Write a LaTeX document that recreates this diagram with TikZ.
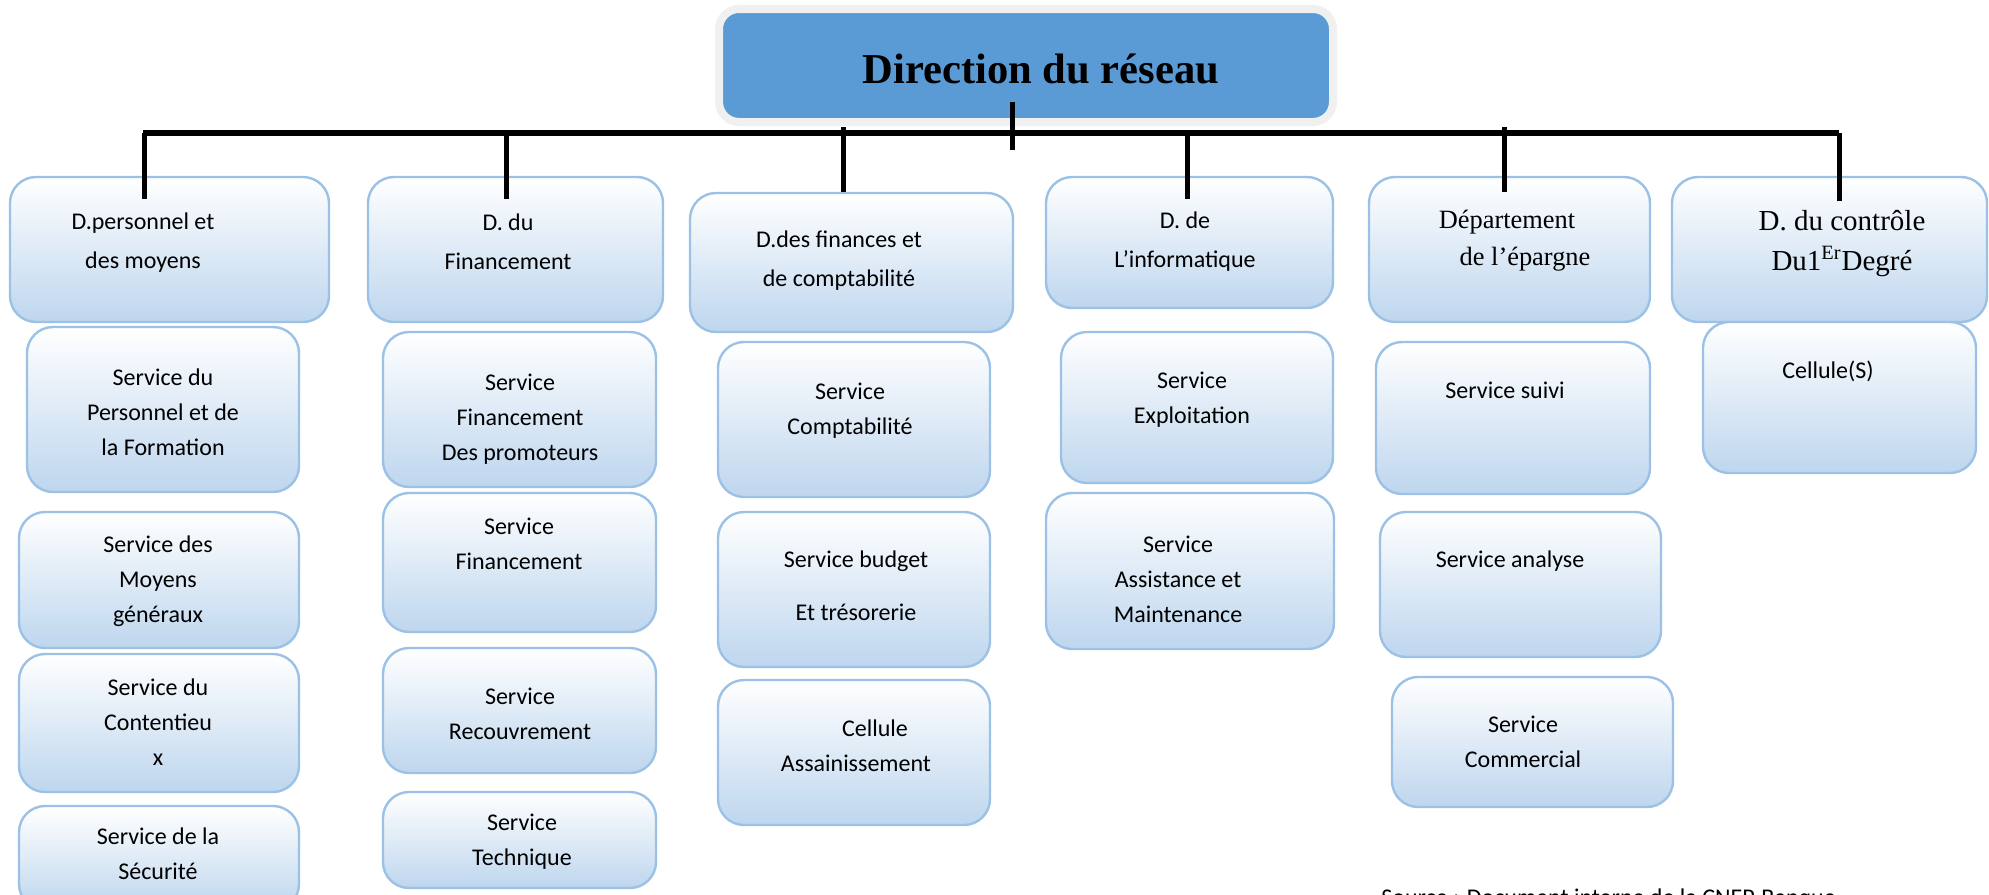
\documentclass[tikz,border=0pt]{standalone}
\usepackage{fontspec}
\usetikzlibrary{fit}
\newfontfamily\carlito{Carlito}
\newfontfamily\tnrfont{Liberation Serif}
\definecolor{chiefblue}{RGB}{91,155,213}
\definecolor{chiefring}{RGB}{240,240,240}
\definecolor{unitline}{RGB}{155,194,230}
\definecolor{unitfill}{RGB}{190,214,238}
\tikzset{
    unit/.style={rectangle, rounded corners=13pt, draw=unitline, line width=1.2pt, top color=white, bottom color=unitfill, inner sep=0mm},
    lbl/.style={anchor=base, align=center, inner sep=0mm, font=\carlito\fontsize{12}{17.5}\selectfont},
    lblhead/.style={lbl, font=\carlito\fontsize{12}{19.5}\selectfont},
    bar/.style={line width=3pt},
    drop/.style={line width=2.5pt}
}

\begin{document}
\begin{tikzpicture}[x=0.5pt, y=-0.5pt]
  \useasboundingbox (0,0) rectangle (1989,894);

  \node (chief) [fill=chiefblue, draw=chiefring, line width=4pt, rounded corners=10pt, inner sep=0mm, fit={(719,9) (1333,122)}] {};
  \node (title) [anchor=base, inner sep=0mm, font=\tnrfont\bfseries\fontsize{21.3}{25}\selectfont] at (1041,83) {Direction du réseau};

  \node (b1) [unit, fit={(10,177) (329,322)}] {};
  \node (b2) [unit, fit={(368,177) (663,322)}] {};
  \node (b3) [unit, fit={(690,193) (1013,332)}] {};
  \node (b4) [unit, fit={(1046,177) (1333,308)}] {};
  \node (b5) [unit, fit={(1369,177) (1650,322)}] {};
  \node (b6) [unit, fit={(1672,177) (1987,322)}] {};

  \node (s11) [unit, fit={(27,327) (299,492)}] {};
  \node (s12) [unit, fit={(19,512) (299,648)}] {};
  \node (s13) [unit, fit={(19,654) (299,792)}] {};
  \node (s14) [unit, fit={(19,806) (299,910)}] {};
  \node (s21) [unit, fit={(383,332) (656,487)}] {};
  \node (s22) [unit, fit={(383,493) (656,632)}] {};
  \node (s23) [unit, fit={(383,648) (656,773)}] {};
  \node (s24) [unit, fit={(383,792) (656,888)}] {};
  \node (s31) [unit, fit={(718,342) (990,497)}] {};
  \node (s32) [unit, fit={(718,512) (990,667)}] {};
  \node (s33) [unit, fit={(718,680) (990,825)}] {};
  \node (s41) [unit, fit={(1061,332) (1333,483)}] {};
  \node (s42) [unit, fit={(1046,493) (1334,649)}] {};
  \node (s51) [unit, fit={(1376,342) (1650,494)}] {};
  \node (s52) [unit, fit={(1380,512) (1661,657)}] {};
  \node (s53) [unit, fit={(1392,677) (1673,807)}] {};
  \node (s61) [unit, fit={(1703,322) (1976,473)}] {};

  \node (t1) [lblhead] at (143,268) {D.personnel et\\des moyens};
  \node (t2) [lblhead] at (508,269) {D. du\\Financement};
  \node (t3) [lblhead] at (839,286) {D.des finances et\\de comptabilité};
  \node (t4) [lblhead] at (1185,267) {D. de\\L’informatique};
  \node (t5) [lbl, font=\tnrfont\fontsize{13.2}{18.5}\selectfont] at (1507,265) {Département\\\hspace*{18pt}de l’épargne};
  \node (t6) [lbl, font=\tnrfont\fontsize{14.5}{20}\selectfont] at (1842,270) {D. du contrôle\\Du1\textsuperscript{Er}Degré};

  \node (u11) [lbl] at (163,455) {Service du\\Personnel et de\\la Formation};
  \node (u12) [lbl] at (158,622) {Service des\\Moyens\\généraux};
  \node (u13) [lbl] at (158,765) {Service du\\Contentieu\\x};
  \node (u14) [lbl] at (158,879) {Service de la\\Sécurité};
  \node (u21) [lbl] at (520,460) {Service\\Financement\\Des promoteurs};
  \node (u22) [lbl] at (519,569) {Service\\Financement};
  \node (u23) [lbl] at (520,739) {Service\\Recouvrement};
  \node (u24) [lbl] at (522,865) {Service\\Technique};
  \node (u31) [lbl] at (850,434) {Service\\Comptabilité};
  \node (u32) [lbl] at (856,620) {Service budget\\[9pt]Et trésorerie};
  \node (u33) [lbl] at (856,771) {\hspace*{19pt}Cellule\\Assainissement};
  \node (u41) [lbl] at (1192,423) {Service\\Exploitation};
  \node (u42) [lbl] at (1178,622) {Service\\Assistance et\\Maintenance};
  \node (u51) [lbl] at (1505,398) {Service suivi};
  \node (u52) [lbl] at (1510,567) {Service analyse};
  \node (u53) [lbl] at (1523,767) {Service\\Commercial};
  \node (u61) [lbl] at (1828,378) {Cellule(S)};

  \node (source) [anchor=base west, inner sep=0mm, font=\carlito\fontsize{12}{14}\selectfont] at (1381,905) {Source : Document interne de la CNEP-Banque};

  \coordinate (barL) at (143,133);
  \coordinate (barR) at (1839,133);
  \coordinate (tickA) at (1012,102);
  \coordinate (tickB) at (1012,150);
  \coordinate (d1) at (144,133);
  \coordinate (d2) at (506,133);
  \coordinate (d3) at (843,127);
  \coordinate (d4) at (1187,133);
  \coordinate (d5) at (1504,127);
  \coordinate (d6) at (1839,133);

  \draw[bar] (barL) -- (barR);
  \draw[drop] (tickA) -- (tickB);
  \draw[drop] (d1) -- (d1 |- b1.north) -- ++(0,23);
  \draw[drop] (d2) -- (d2 |- b2.north) -- ++(0,23);
  \draw[drop] (d3) -- (d3 |- b3.north);
  \draw[drop] (d4) -- (d4 |- b4.north) -- ++(0,23);
  \draw[drop] (d5) -- (d5 |- b5.north) -- ++(0,16);
  \draw[drop] (d6) -- (d6 |- b6.north) -- ++(0,25);
\end{tikzpicture}
\end{document}
